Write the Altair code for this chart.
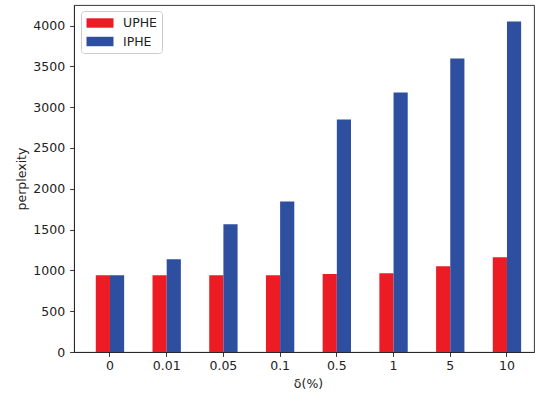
import altair as alt
import pandas as pd

categories = ["0", "0.01", "0.05", "0.1", "0.5", "1", "5", "10"]
uphe_vals = [940, 940, 940, 940, 955, 965, 1050, 1160]
iphe_vals = [940, 1135, 1565, 1845, 2850, 3180, 3595, 4050]
series = ["UPHE", "IPHE"]
colors = ["#ED1C24", "#2E4FA0"]
y_ticks = [0, 500, 1000, 1500, 2000, 2500, 3000, 3500, 4000]

rows = []
for c, u, i in zip(categories, uphe_vals, iphe_vals):
    rows.append({"delta": c, "series": "UPHE", "value": u})
    rows.append({"delta": c, "series": "IPHE", "value": i})
df = pd.DataFrame(rows)

font = "DejaVu Sans"
fs = 12.5

chart = alt.Chart(df).mark_bar().encode(
    x=alt.X(
        "delta:N",
        sort=categories,
        scale=alt.Scale(paddingInner=0.5, paddingOuter=0.3056, align=0.629),
        axis=alt.Axis(
            title="δ(%)", labelAngle=0, titleX=234, titleY=31,
            titleBaseline="middle", titleAlign="center",
            labelPadding=3,
        ),
    ),
    xOffset=alt.XOffset("series:N", sort=series,
                        scale=alt.Scale(paddingInner=0, paddingOuter=0)),
    y=alt.Y(
        "value:Q",
        scale=alt.Scale(domain=[0, 4252], nice=False, zero=True),
        axis=alt.Axis(
            values=y_ticks, grid=False, title="perplexity", format="d",
            titleX=-53, titleY=173.5, titleAngle=-90,
            titleBaseline="middle", titleAlign="center",
            labelPadding=5,
        ),
    ),
    color=alt.Color(
        "series:N", sort=series,
        scale=alt.Scale(domain=series, range=colors),
        legend=alt.Legend(
            title=None, orient="none", legendX=7, legendY=6,
            strokeColor="#cccccc", fillColor="rgba(255,255,255,0.8)",
            cornerRadius=3, padding=5,
            symbolType="M-2,-0.7L2,-0.7L2,0.7L-2,0.7Z",
            symbolSize=182, symbolStrokeWidth=0, symbolOffset=7,
            symbolOpacity=1,
            labelOffset=16, rowPadding=4.5,
            labelFontSize=fs, labelFont=font, labelColor="#222222",
        ),
    ),
).properties(
    width=460, height=347,
    autosize=alt.AutoSizeParams(type="none"),
    padding={"left": 74, "top": 5, "right": 1, "bottom": 41},
).configure_view(
    stroke="#222222", strokeWidth=0.9
).configure_axis(
    labelFont=font, titleFont=font, labelFontSize=fs, titleFontSize=fs,
    titleFontWeight="normal", labelColor="#222222", titleColor="#222222",
    domainColor="#222222", tickColor="#222222", tickSize=4.4,
    domainWidth=0.9, tickWidth=0.9,
)

chart.save("out.html", embed_options={"renderer": "svg", "actions": False})
